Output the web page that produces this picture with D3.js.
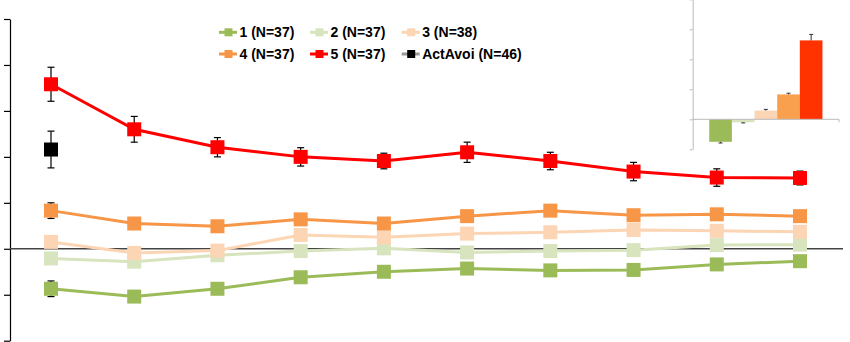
<!DOCTYPE html>
<html><head><meta charset="utf-8">
<script src="https://cdn.jsdelivr.net/npm/d3@7"></script>
<style>html,body{margin:0;padding:0;background:#fff;}svg{display:block;}</style>
</head><body>
<svg id="chart" width="850" height="342"></svg>
<script>
// ---- data ----
const sessions = [1,2,3,4,5,6,7,8,9,10];
const seriesNames = ["1 (N=37)", "2 (N=37)", "3 (N=38)", "4 (N=37)", "5 (N=37)", "ActAvoi (N=46)"];
const seriesColors = ["#9BBB59", "#D7E4BD", "#FCD5B5", "#F79646", "#FF0000", "#000000"];
const s1 = [-0.87, -1.04, -0.87, -0.62, -0.50, -0.43, -0.47, -0.46, -0.34, -0.27];
const s2 = [-0.21, -0.28, -0.14, -0.05, 0.01, -0.08, -0.05, -0.03, 0.08, 0.09];
const s3 = [0.15, -0.09, -0.04, 0.30, 0.25, 0.33, 0.36, 0.41, 0.39, 0.37];
const s4 = [0.83, 0.55, 0.49, 0.64, 0.55, 0.71, 0.83, 0.73, 0.75, 0.71];
const s5 = [3.58, 2.60, 2.21, 2.00, 1.91, 2.10, 1.91, 1.68, 1.55, 1.54];
const actAvoi = [2.16];
const e1 = [0.17, 0.1, 0.1, 0.1, 0.1, 0.1, 0.1, 0.1, 0.1, 0.1];
const e2 = [0.1, 0.1, 0.1, 0.1, 0.1, 0.1, 0.1, 0.1, 0.1, 0.1];
const e3 = [0.1, 0.1, 0.1, 0.1, 0.1, 0.1, 0.1, 0.1, 0.1, 0.1];
const e4 = [0.17, 0.12, 0.12, 0.12, 0.12, 0.12, 0.12, 0.12, 0.12, 0.12];
const e5 = [0.37, 0.28, 0.21, 0.20, 0.17, 0.22, 0.19, 0.20, 0.19, 0.15];
const eAct = [0.40];
const yTicks = [-2, -1, 0, 1, 2, 3, 4, 5];
// inset bars (overall mean per group)
const insetGroups = ["1", "2", "3", "4", "5"];
const insetValues = [-0.75, -0.10, 0.29, 0.83, 2.63];
const insetErrors = [0.04, 0.02, 0.04, 0.04, 0.2];
const insetColors = ["#9BBB59", "#D7E4BD", "#FCD5B5", "#F9A04E", "#FF3300"];
const insetTicks = [-1, 0, 1, 2, 3, 4];

// ---- main chart ----
const svg = d3.select("#chart");
const x = d3.scalePoint().domain(sessions).range([51, 800]);
const y = d3.scaleLinear().domain([-2, 5]).range([340.7, 19]);

svg.append("g").attr("transform", "translate(10,0)")
  .call(d3.axisLeft(y).tickValues(yTicks).tickFormat("").tickSize(6).tickSizeOuter(0))
  .call(g => g.selectAll("line,path").attr("stroke", "#000").attr("stroke-width", 1.2));

svg.append("line").attr("x1", 10).attr("x2", 843).attr("y1", y(0)).attr("y2", y(0))
  .attr("stroke", "#444").attr("stroke-width", 1.5);

const series = [
  {v: s1, e: e1, c: seriesColors[0]},
  {v: s2, e: e2, c: seriesColors[1]},
  {v: s3, e: e3, c: seriesColors[2]},
  {v: s4, e: e4, c: seriesColors[3]},
  {v: s5, e: e5, c: seriesColors[4]},
  {v: actAvoi, e: eAct, c: seriesColors[5]}
];
const line = d3.line().x((d, i) => x(sessions[i])).y(d => y(d));
const ms = 14;
series.forEach(s => {
  const g = svg.append("g");
  if (s.v.length > 1) {
    g.append("path").datum(s.v).attr("d", line).attr("fill", "none")
      .attr("stroke", s.c).attr("stroke-width", 3);
  }
  const eb = g.selectAll("g.eb").data(s.v).join("g");
  eb.append("line").attr("x1", (d, i) => x(sessions[i])).attr("x2", (d, i) => x(sessions[i]))
    .attr("y1", (d, i) => y(d + s.e[i])).attr("y2", (d, i) => y(d - s.e[i]))
    .attr("stroke", "#000").attr("stroke-width", 1.2);
  [1, -1].forEach(sg => {
    eb.append("line").attr("x1", (d, i) => x(sessions[i]) - 3.5).attr("x2", (d, i) => x(sessions[i]) + 3.5)
      .attr("y1", (d, i) => y(d + sg * s.e[i])).attr("y2", (d, i) => y(d + sg * s.e[i]))
      .attr("stroke", "#000").attr("stroke-width", 1.2);
  });
  g.selectAll("rect").data(s.v).join("rect")
    .attr("x", (d, i) => x(sessions[i]) - ms / 2).attr("y", d => y(d) - ms / 2)
    .attr("width", ms).attr("height", ms).attr("fill", s.c);
});

// ---- legend ----
const legX = [219, 310, 401.7], legY = [32.3, 54];
seriesNames.forEach((name, i) => {
  const lx = legX[i % 3], ly = legY[Math.floor(i / 3)];
  const g = svg.append("g");
  g.append("line").attr("x1", lx).attr("x2", lx + 18).attr("y1", ly).attr("y2", ly)
    .attr("stroke", i === 5 ? "#999" : seriesColors[i]).attr("stroke-width", 3);
  g.append("rect").attr("x", lx + 5.5).attr("y", ly - 4).attr("width", 8).attr("height", 8)
    .attr("fill", seriesColors[i]);
  g.append("text").attr("x", lx + 20.5).attr("y", ly + 5)
    .attr("font-family", "Liberation Sans, Arial, sans-serif").attr("font-weight", "bold")
    .attr("font-size", 14).attr("fill", "#000").text(name);
});

// ---- inset bar chart ----
const ix = d3.scaleBand().domain(insetGroups).range([692.7, 839]).paddingInner(0).paddingOuter(0.73);
const iy = d3.scaleLinear().domain([-1, 4]).range([149.3, -0.7]);
const inset = svg.append("g");
inset.append("g").attr("transform", "translate(692.7,0)")
  .call(d3.axisLeft(iy).tickValues(insetTicks).tickFormat("").tickSize(3).tickSizeOuter(0))
  .call(g => g.selectAll("line,path").attr("stroke", "#bbb").attr("stroke-width", 1));
inset.selectAll("rect").data(insetValues).join("rect")
  .attr("x", (d, i) => ix(insetGroups[i])).attr("width", ix.bandwidth())
  .attr("y", d => iy(Math.max(0, d))).attr("height", d => Math.abs(iy(d) - iy(0)))
  .attr("fill", (d, i) => insetColors[i]);
inset.append("line").attr("x1", 692.7).attr("x2", 839).attr("y1", iy(0)).attr("y2", iy(0))
  .attr("stroke", "#bbb").attr("stroke-width", 1);
inset.append("line").attr("x1", 839).attr("x2", 839).attr("y1", iy(0)).attr("y2", iy(0) + 3)
  .attr("stroke", "#bbb");
insetValues.forEach((d, i) => {
  const cx = ix(insetGroups[i]) + ix.bandwidth() / 2;
  const tip = d >= 0 ? d + insetErrors[i] : d - insetErrors[i];
  inset.append("line").attr("x1", cx).attr("x2", cx).attr("y1", iy(d)).attr("y2", iy(tip))
    .attr("stroke", "#333").attr("stroke-width", 1);
  inset.append("line").attr("x1", cx - 2).attr("x2", cx + 2).attr("y1", iy(tip)).attr("y2", iy(tip))
    .attr("stroke", "#333").attr("stroke-width", 1);
});
</script>
</body></html>
